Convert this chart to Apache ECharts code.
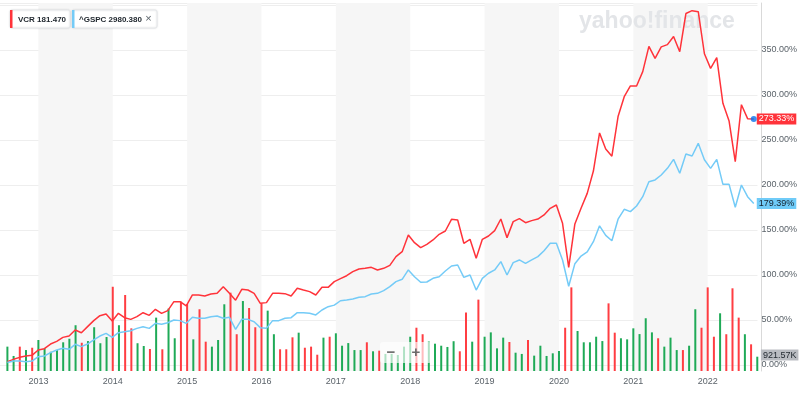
<!DOCTYPE html>
<html><head><meta charset="utf-8">
<script src="https://cdn.jsdelivr.net/npm/echarts@6/dist/echarts.min.js"></script>
<style>html,body{margin:0;padding:0;background:#fff}#c{width:800px;height:394px}</style>
</head><body><div id="c"></div>
<script>
// ---- data ----
const startYear = 2012, startMonth = 8, monthCount = 122;
const months = [];
for (let k = 0; k < monthCount; k++) { const m = startMonth - 1 + k; months.push((startYear + Math.floor(m / 12)) + '-' + String(m % 12 + 1).padStart(2, '0')); }

const vcrPct = [3.7,6.3,8.5,10,10.7,16.7,18.1,23.3,26.3,30.7,32.2,38.9,35.9,42.6,49.3,54.8,56.7,48.9,57.4,52.6,
50.7,53.7,58.1,55.2,61.9,57.4,60.4,70.4,70.4,65.6,77.8,77.8,76.7,78.9,79.6,87,79.6,72,84.1,83.3,
79.6,68.5,69.3,79.6,79.6,79.3,76.7,85.2,83.3,81.5,77.8,86.3,86.3,92.6,95.9,99.2,103.7,106.7,107.4,108.5,
105.6,107.4,110.7,120.4,125.9,144.4,135.9,130.4,134.1,138.9,145.2,148.9,161.9,161.1,135.2,139.6,118.5,139.6,143.3,149.3,
162.2,141.5,159.3,162.6,158.1,160.4,162.2,166.7,174.1,177.8,157.4,108.5,156.7,174.1,190.7,215.5,257.8,240,232,276,
298.1,310,310,326,354,340.7,353.5,356,365,348.1,390.5,393.7,392.6,345.8,329.6,341.5,290.7,271,225.9,289.2,
273.7,273.33];
const gspcPct = [2.8,4.5,4.4,3.7,4.4,9.3,10,13.7,16.7,18.5,17.4,23,20.4,23.3,27.8,32.2,35.2,30.7,35.9,37,
38.1,40.7,42.6,40.7,46.3,45.2,47,50,49.3,46.3,53,51.9,51.9,53.7,54.4,51.9,53,39.6,50.7,50.7,
48.1,41.5,40.7,49.3,49.3,51.9,52.6,58.1,58.1,57.4,55.6,61.1,64.8,66.5,71.4,72.2,73.3,75.2,75.9,78.9,
79.6,82.6,87,92.6,95.2,105.6,98.1,91.9,92.2,96.3,98.1,104.4,110,111.1,97.4,100,83.3,96.3,101.9,105.6,
114.8,100,113.7,116.7,113,116.7,120.4,127,135.2,135.2,116.7,87.5,112.6,121.1,125.6,137,154.6,144,138,162,
173,170.4,176.7,187,203.7,205.6,211.1,218.5,228.5,213,234.4,232.2,246.3,228,218.5,228.5,200.7,200.7,175.2,200,
187,179.39];
// monthly volume, millions of shares
const volumeM = [1.57,0.97,1.57,1.35,1.50,2.00,1.46,1.24,1.35,1.85,2.08,2.95,1.82,1.93,2.82,1.79,2.19,5.43,2.95,4.90,
2.75,1.79,1.61,1.42,3.44,1.40,4.02,2.11,4.47,4.32,2.04,3.98,1.89,1.57,2.00,4.30,5.05,2.37,4.51,4.06,
2.82,4.36,3.89,2.37,1.40,1.40,2.17,2.47,1.50,1.57,1.05,2.15,2.21,2.43,1.63,1.80,1.35,1.35,1.85,1.27,
1.31,1.10,1.10,1.03,1.57,2.21,2.79,2.37,1.90,1.76,1.63,1.55,1.92,1.27,3.77,1.89,4.60,2.21,2.49,1.46,
2.15,1.87,1.18,1.10,2.00,0.99,1.63,0.97,1.14,1.29,2.79,5.39,2.58,1.85,1.85,2.21,1.93,4.36,2.47,2.11,
2.04,2.75,2.38,3.40,2.49,2.11,1.57,2.15,1.35,1.35,1.63,3.98,2.79,5.39,2.21,3.72,2.37,5.33,3.44,2.37,
1.72,0.92157];
// 1 = up month (green), 0 = down month (red)
const volumeUp = [1,1,0,1,0,1,1,1,1,1,1,1,0,1,1,1,1,0,1,0,
0,1,1,0,1,0,1,1,0,0,1,0,0,1,1,1,0,0,1,0,
0,0,1,1,0,0,0,1,0,0,0,1,0,1,1,1,1,1,0,1,
0,1,1,1,1,1,0,0,1,1,1,1,1,0,0,1,0,1,1,1,
1,0,1,1,0,1,1,1,1,1,0,0,1,1,1,1,1,0,0,1,
1,1,1,1,1,0,1,1,1,0,1,1,0,0,0,1,0,0,0,1,
0,1];
const legendItems = [['VCR', '181.470'], ['^GSPC', '2980.380']];

// ---- derived ----
const yearIdx = months.map((m, i) => m.endsWith('-01') ? i : -1).filter(i => i >= 0);
const bands = yearIdx.filter(i => (+months[i].slice(0, 4)) % 2 === 1).map(i => [i, i + 12]);

const RED = '#ff333a', BLUE = '#74cbf7', GREEN = '#1faa57', VRED = '#ff3d42';
const FONT = 'Liberation Sans, Arial, sans-serif';
const xMin = -1.194, xMax = 121.6;

const chart = echarts.init(document.getElementById('c'), null, { renderer: 'canvas' });
const last = monthCount - 1;
chart.setOption({
  animation: false,
  textStyle: { fontFamily: FONT },
  grid: [
    { left: 0, right: 39, top: 3, bottom: 29 },
    { left: 0, right: 39, top: 3, bottom: 23 }
  ],
  xAxis: [
    { gridIndex: 0, type: 'value', min: xMin, max: xMax, show: false },
    { gridIndex: 1, type: 'value', min: xMin, max: xMax,
      axisLine: { show: false }, axisTick: { show: false }, splitLine: { show: false },
      axisLabel: { customValues: yearIdx, formatter: v => months[Math.round(v)].slice(0, 4),
        fontSize: 9, color: '#5b636a', margin: 6, fontFamily: FONT } }
  ],
  yAxis: [
    { gridIndex: 0, type: 'value', position: 'right', min: 0, max: 402.2, interval: 50,
      axisLine: { show: false, onZero: false }, axisTick: { show: false },
      splitLine: { lineStyle: { color: '#eeeeee', width: 1 } },
      axisLabel: { formatter: v => v > 375 ? '' : v.toFixed(2) + '%', fontSize: 9, color: '#5b636a', margin: 4, fontFamily: FONT, showMaxLabel: false } },
    { gridIndex: 1, type: 'value', position: 'right', min: 0, max: 23.72,
      axisLine: { show: true, onZero: false, lineStyle: { color: '#d9d9d9' } }, axisTick: { show: false },
      axisLabel: { show: false }, splitLine: { show: false } }
  ],
  series: [
    { type: 'line', xAxisIndex: 1, yAxisIndex: 1, data: [], z: 0, silent: true,
      markArea: { silent: true, itemStyle: { color: '#f6f6f6' },
        data: bands.map(b => [{ xAxis: b[0] }, { xAxis: b[1] }]) } },
    { type: 'bar', xAxisIndex: 1, yAxisIndex: 1, barWidth: 2, z: 2,
      data: volumeM.map((v, i) => {
        const item = { value: [i, v], itemStyle: { color: volumeUp[i] ? GREEN : VRED } };
        if (i === last) item.label = { show: true, position: [4.6, -1.6], align: 'left', verticalAlign: 'middle',
          formatter: p => (p.value[1] * 1000).toFixed(2) + 'K', backgroundColor: '#b9bcc1', color: '#232a31',
          fontSize: 9, padding: [1, 2, 1, 2], fontFamily: FONT };
        return item;
      }) },
    { type: 'line', name: 'VCR', xAxisIndex: 0, yAxisIndex: 0, z: 3, symbol: 'none',
      data: vcrPct.map((v, i) => [i, v]), lineStyle: { color: RED, width: 1.5 }, itemStyle: { color: RED },
      endLabel: { show: true, formatter: p => p.value[1].toFixed(2) + '%', backgroundColor: RED, color: '#fff',
        fontSize: 9, padding: [1, 2, 1, 2], distance: 3, fontFamily: FONT } },
    { type: 'line', name: '^GSPC', xAxisIndex: 0, yAxisIndex: 0, z: 3, symbol: 'none',
      data: gspcPct.map((v, i) => [i, v]), lineStyle: { color: BLUE, width: 1.5 }, itemStyle: { color: BLUE },
      endLabel: { show: true, formatter: p => p.value[1].toFixed(2) + '%', backgroundColor: '#6fcbf8', color: '#14202c',
        fontSize: 9, padding: [1, 2, 1, 2], distance: 3, fontFamily: FONT } },
    { type: 'scatter', xAxisIndex: 0, yAxisIndex: 0, z: 4, symbolSize: 6, silent: true,
      data: [[last, vcrPct[last]]], itemStyle: { color: '#0a72ec' } }
  ],
  graphic: [
    { type: 'text', left: 579, top: 10, z: 2, silent: true,
      style: { text: 'yahoo!finance', font: 'bold 23px ' + FONT, fill: '#e3e5e8' } },
    { type: 'rect', shape: { x: 10, y: 10, width: 60, height: 18, r: 2 }, style: { fill: '#fff', stroke: '#e6e8eb', shadowBlur: 2, shadowColor: 'rgba(0,0,0,0.12)' }, z: 10 },
    { type: 'rect', shape: { x: 10, y: 10, width: 2.5, height: 18 }, style: { fill: RED }, z: 11 },
    { type: 'text', x: 18, y: 19.5, z: 11, style: { text: legendItems[0][0] + ' ' + legendItems[0][1], font: '600 8px ' + FONT, fill: '#232a31', verticalAlign: 'middle' } },
    { type: 'rect', shape: { x: 72, y: 10, width: 85, height: 18, r: 2 }, style: { fill: '#fff', stroke: '#e6e8eb', shadowBlur: 2, shadowColor: 'rgba(0,0,0,0.12)' }, z: 10 },
    { type: 'rect', shape: { x: 72, y: 10, width: 2.5, height: 18 }, style: { fill: BLUE }, z: 11 },
    { type: 'text', x: 79, y: 19.5, z: 11, style: { text: legendItems[1][0] + ' ' + legendItems[1][1], font: '600 8px ' + FONT, fill: '#232a31', verticalAlign: 'middle' } },
    { type: 'text', x: 148.5, y: 19, z: 11, style: { text: '×', font: '11px ' + FONT, fill: '#5b636a', verticalAlign: 'middle', align: 'center' } },
    { type: 'rect', shape: { x: 380, y: 342, width: 52, height: 21, r: 3 }, style: { fill: 'rgba(255,255,255,0.65)' }, z: 20 },
    { type: 'text', x: 391, y: 352.5, z: 21, style: { text: '−', font: 'bold 15px ' + FONT, fill: '#6b6b6b', align: 'center', verticalAlign: 'middle' } },
    { type: 'text', x: 416, y: 352.5, z: 21, style: { text: '+', font: 'bold 15px ' + FONT, fill: '#6b6b6b', align: 'center', verticalAlign: 'middle' } }
  ]
});
</script>
</body></html>
